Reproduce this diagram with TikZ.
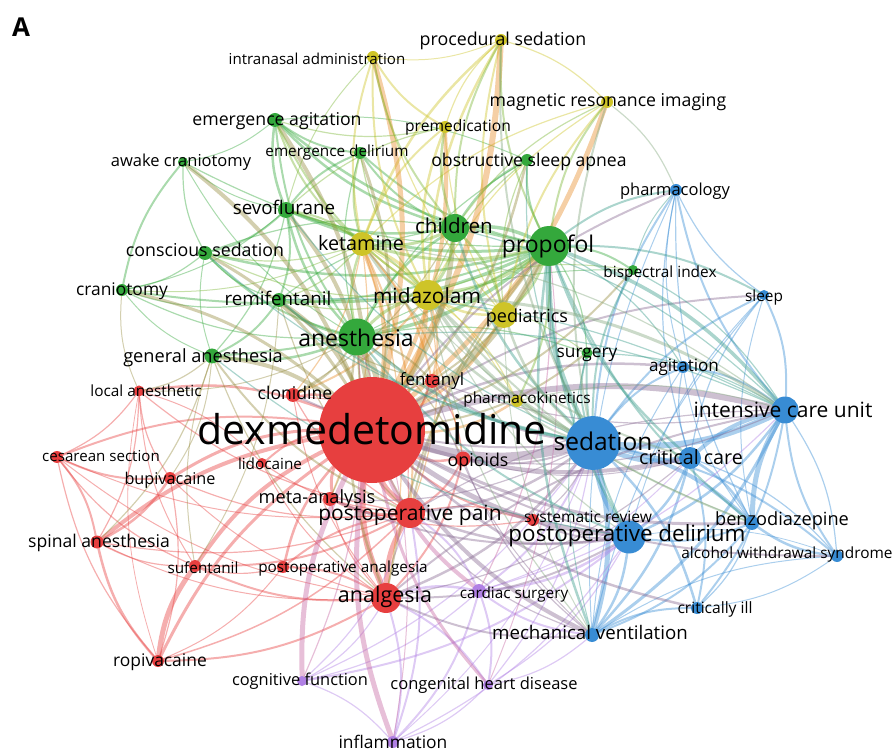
\documentclass[tikz,border=0pt]{standalone}
\usepackage{fontspec}
\setmainfont{Open Sans}
\usepackage{xcolor}
\usepackage{tikz}
\usetikzlibrary{positioning}

\definecolor{cred}{RGB}{231,63,63}
\definecolor{cgreen}{RGB}{52,168,60}
\definecolor{cyellow}{RGB}{206,196,40}
\definecolor{cblue}{RGB}{56,140,212}
\definecolor{cpurple}{RGB}{176,128,228}
\definecolor{cry}{RGB}{230,140,40}
\definecolor{crg}{RGB}{150,140,64}
\colorlet{crb}{cred!45!cblue}
\colorlet{crp}{cred!40!cpurple}
\colorlet{cgy}{cgreen!55!cyellow}
\colorlet{cgb}{cgreen!50!cblue}
\colorlet{cyb}{cyellow!50!cblue}

\pgfdeclarelayer{edges}
\pgfsetlayers{edges,main}

\begin{document}
\begin{tikzpicture}[x=1pt,y=-1pt,
  dot/.style={circle,draw=none,inner sep=0pt,minimum size=#1},
  kw/.style={font={\fontsize{#1}{#1}\selectfont},anchor=base,yshift={-0.35pt*#1},inner sep=0pt,text=black},
  ed/.style={draw=#1,draw opacity=.42,line cap=round}]
\useasboundingbox (0,0) rectangle (895,751);

% red cluster
\node[dot=106,fill=cred] (dex) at (372,430) {};
\node[dot=30,fill=cred] (pain) at (410,513) {};
\node[dot=30,fill=cred] (anal) at (386,598) {};
\node[dot=14,fill=cred] (fent) at (432,381) {};
\node[dot=14,fill=cred] (clon) at (293,395) {};
\node[dot=11,fill=cred] (local) at (139,391) {};
\node[dot=12,fill=cred] (ces) at (57,457) {};
\node[dot=12,fill=cred] (bupi) at (170,478) {};
\node[dot=10,fill=cred] (lido) at (262,463) {};
\node[dot=14,fill=cred] (meta) at (330,499) {};
\node[dot=15,fill=cred] (opi) at (463,459) {};
\node[dot=13,fill=cred] (spinal) at (97,542) {};
\node[dot=12,fill=cred] (sufe) at (195,566) {};
\node[dot=12,fill=cred] (poan) at (283,567) {};
\node[dot=12,fill=cred] (ropi) at (158,661) {};
\node[dot=12,fill=cred] (sysrev) at (533,520) {};
% green cluster
\node[dot=37,fill=cgreen] (anes) at (357,337) {};
\node[dot=40,fill=cgreen] (prop) at (549,246) {};
\node[dot=28,fill=cgreen] (child) at (455,228) {};
\node[dot=14,fill=cgreen] (remi) at (279,300) {};
\node[dot=16,fill=cgreen] (sevo) at (286,210) {};
\node[dot=14,fill=cgreen] (consc) at (205,253) {};
\node[dot=12,fill=cgreen] (cran) at (122,290) {};
\node[dot=15,fill=cgreen] (genan) at (212,356) {};
\node[dot=14,fill=cgreen] (emag) at (275,120) {};
\node[dot=12,fill=cgreen] (emdel) at (360,153) {};
\node[dot=10,fill=cgreen] (awake) at (183,162) {};
\node[dot=12,fill=cgreen] (osa) at (527,160) {};
\node[dot=11,fill=cgreen] (surg) at (587,353) {};
\node[dot=10,fill=cgreen] (bis) at (633,270) {};
% yellow cluster
\node[dot=30,fill=cyellow] (mida) at (428,295) {};
\node[dot=24,fill=cyellow] (keta) at (362,244) {};
\node[dot=26,fill=cyellow] (pedi) at (504,315) {};
\node[dot=12,fill=cyellow] (preme) at (445,127) {};
\node[dot=12,fill=cyellow] (intra) at (373,57) {};
\node[dot=12,fill=cyellow] (proc) at (501,40) {};
\node[dot=12,fill=cyellow] (mri) at (607,102) {};
\node[dot=12,fill=cyellow] (pk) at (517,401) {};
% blue cluster
\node[dot=54,fill=cblue] (sed) at (593,443) {};
\node[dot=33,fill=cblue] (podel) at (629,537) {};
\node[dot=27,fill=cblue] (icu) at (785,410) {};
\node[dot=22,fill=cblue] (crit) at (690,458) {};
\node[dot=14,fill=cblue] (benzo) at (752,523) {};
\node[dot=12,fill=cblue] (alco) at (837,556) {};
\node[dot=12,fill=cblue] (critill) at (697,608) {};
\node[dot=14,fill=cblue] (mv) at (592,635) {};
\node[dot=12,fill=cblue] (agit) at (683,367) {};
\node[dot=10,fill=cblue] (sleep) at (764,295) {};
\node[dot=12,fill=cblue] (pharm) at (676,190) {};
% purple cluster
\node[dot=14,fill=cpurple] (card) at (479,591) {};
\node[dot=10,fill=cpurple] (cogn) at (302,681) {};
\node[dot=10,fill=cpurple] (chd) at (488,685) {};
\node[dot=12,fill=cpurple] (infl) at (393,742) {};

\begin{pgfonlayer}{edges}
% links inside clusters
\foreach \a/\b/\w in {pain/anal/5,sufe/ropi/5,spinal/ropi/2.5,spinal/ces/2,spinal/bupi/2.5,ces/bupi/2,ces/local/1.2,local/bupi/1.2,sufe/pain/2,ropi/anal/2,ropi/bupi/1.2,lido/pain/1.2,meta/pain/2.5,meta/sysrev/1.2,clon/fent/1,opi/fent/1.2,anal/opi/2,pain/opi/2,sufe/anal/2,spinal/local/1.2,ces/ropi/1.2,ces/sufe/1.2,lido/local/1,pain/poan/2,anal/poan/2,spinal/sufe/1.2,spinal/pain/1.2,ropi/pain/1.5,bupi/pain/1.2,sufe/poan/1.2,local/pain/1.2,clon/pain/1.2,meta/anal/1.2,ces/anal/1,spinal/anal/1,local/sufe/1,bupi/anal/1,fent/pain/1.2,sysrev/pain/1.2,ropi/poan/1,ces/pain/1,clon/anal/1,lido/anal/1,local/ropi/0.8,dex/pain/6,dex/anal/6,dex/spinal/4,dex/bupi/3,dex/sufe/4,dex/ropi/3,dex/ces/2,dex/local/2.5,dex/lido/2,dex/meta/3,dex/clon/2.5,dex/fent/2.5,dex/opi/2.5,dex/poan/2.5,dex/sysrev/2}
  \draw[ed=cred,line width=\w pt] (\a) to[bend right=14] (\b);
\foreach \a/\b/\w in {anes/prop/3.5,prop/child/3.5,child/anes/2.5,emag/sevo/2.5,emag/child/2.5,emdel/child/2,emdel/sevo/2,emag/emdel/2,awake/cran/2,cran/consc/1.2,cran/prop/2,consc/prop/2.5,consc/anes/2,remi/prop/3,remi/anes/2.5,genan/anes/2.5,genan/remi/2,osa/child/2,osa/prop/2,bis/prop/2,surg/prop/1.2,sevo/prop/3,sevo/child/2.5,emag/prop/2.5,awake/consc/1.2,awake/prop/1.2,awake/sevo/1,cran/remi/1.2,cran/genan/1,consc/remi/1.2,consc/sevo/2,genan/prop/2,genan/sevo/1.2,remi/sevo/2,emdel/prop/2,osa/anes/1.2,surg/anes/1.2,bis/anes/1,emag/anes/2,sevo/anes/2.5,cran/anes/1.2,awake/anes/1,osa/emag/1,emdel/anes/1.2,child/remi/1.2,child/consc/1.2,consc/genan/1,awake/emag/1,cran/sevo/1}
  \draw[ed=cgreen,line width=\w pt] (\a) to[bend right=14] (\b);
\foreach \a/\b/\w in {mida/keta/3,mida/pedi/2.5,keta/pedi/2,preme/mida/2.5,preme/keta/2,intra/mida/2,intra/preme/2,intra/keta/2,intra/pedi/1.2,proc/keta/2.5,proc/mida/2.5,proc/pedi/2,mri/pedi/2,mri/proc/1.2,pk/mida/1.2,intra/proc/1,mri/mida/1.2,mri/keta/1.2,preme/pedi/1.2,proc/preme/1.2,pk/keta/1}
  \draw[ed=cyellow,line width=\w pt] (\a) to[bend right=14] (\b);
\foreach \a/\b/\w in {sed/icu/6,sed/crit/5,sed/podel/4,icu/crit/4,icu/benzo/5,icu/agit/2,icu/sleep/2,icu/alco/2,benzo/alco/2.5,benzo/crit/2.5,benzo/sed/4,critill/sed/2.5,critill/icu/2,mv/sed/5,mv/icu/3,mv/podel/2.5,pharm/sed/2,pharm/icu/2,pharm/sleep/1.2,sleep/sed/2,agit/sed/2,alco/sed/2,podel/icu/2.5,critill/mv/2,pharm/crit/1.2,pharm/benzo/1.2,mv/crit/2.5,mv/benzo/2,podel/crit/2.5,podel/benzo/2,sleep/crit/1.2,agit/crit/1.2,critill/crit/2,critill/benzo/1.2,alco/crit/1.2,alco/icu/1.2,sleep/benzo/1,agit/benzo/1,pharm/agit/1,alco/mv/1,sleep/mv/1,pharm/mv/1,agit/mv/1,alco/podel/0.8,sleep/podel/1,critill/alco/1}
  \draw[ed=cblue,line width=\w pt] (\a) to[bend right=14] (\b);
\foreach \a/\b/\w in {card/podel/2.5,card/anal/2.5,cogn/card/1.2,chd/card/2,chd/anal/2,infl/card/2,infl/cogn/1.2,infl/anal/2,chd/podel/1.2,infl/chd/1.2,cogn/podel/2,card/mv/2,card/sed/2,chd/mv/1.2,infl/pain/2,cogn/anal/1.2,card/pain/2,chd/sed/1.2,infl/podel/1.2,cogn/pain/1.2,card/icu/1.2,cogn/sed/1.2,card/crit/1,infl/sed/1}
  \draw[ed=cpurple,line width=\w pt] (\a) to[bend right=14] (\b);
% links between clusters
\foreach \a/\b/\w in {dex/mida/5,dex/keta/4,dex/pedi/3,dex/proc/6,dex/mri/5,dex/intra/5,dex/preme/4,dex/pk/2.5,fent/mida/2,fent/keta/2,pain/keta/2,anal/keta/1.2,clon/mida/2,clon/keta/1.2,opi/keta/1.2,pain/mida/1.2,meta/keta/1.2}
  \draw[ed=cry,line width=\w pt] (\a) to[bend right=14] (\b);
\foreach \a/\b/\w in {dex/anes/6,dex/prop/6,dex/child/5,dex/remi/4,dex/sevo/4,dex/consc/3,dex/cran/3,dex/awake/4,dex/genan/4,dex/emag/4,dex/emdel/3,dex/osa/2.5,dex/surg/2,dex/bis/2,anes/anal/2.5,prop/anal/2,prop/pain/2,anes/pain/2,genan/pain/2,genan/anal/1.2,remi/pain/1.2,remi/fent/1.2,clon/anes/2,fent/anes/2,fent/prop/2,local/genan/1.2,spinal/genan/1.2,bupi/genan/1,sufe/remi/1,clon/child/1.2,local/anes/1,cran/local/1,opi/anes/1.2,genan/sufe/1,meta/anes/1.2}
  \draw[ed=crg,line width=\w pt] (\a) to[bend right=14] (\b);
\foreach \a/\b/\w in {dex/sed/9,icu/dex/6,dex/podel/5,dex/crit/4,dex/mv/4,dex/benzo/3,dex/critill/2.5,dex/alco/2,agit/dex/2.5,sleep/dex/2,pharm/dex/2,pain/sed/2.5,anal/sed/2.5,pain/podel/2.5,anal/podel/2,anal/mv/2,fent/sed/2,opi/sed/2,sysrev/podel/2,meta/podel/2,meta/sed/1.2,clon/sed/2,icu/pain/1.2,icu/anal/2,opi/icu/1.2,fent/icu/1.2,sysrev/sed/1.2,anal/crit/1.2,pain/mv/1.2,opi/mv/1.2,fent/mv/1,opi/crit/1}
  \draw[ed=crb,line width=\w pt] (\a) to[bend right=14] (\b);
\foreach \a/\b/\w in {dex/card/4,dex/cogn/5,dex/infl/5,dex/chd/3,chd/prop/1,card/prop/1.2,cogn/anes/1.2,infl/anes/1}
  \draw[ed=crp,line width=\w pt] (\a) to[bend right=14] (\b);
\foreach \a/\b/\w in {keta/child/3,mida/child/3,pedi/child/2.5,preme/child/2.5,intra/child/2,proc/child/2,mri/prop/2,pk/prop/2,keta/prop/3,mida/prop/3.5,pedi/prop/2.5,keta/anes/2.5,mida/anes/3,keta/sevo/2,mida/sevo/2,emag/keta/2,emag/mida/2,emdel/keta/2,emdel/mida/1.2,emag/preme/1.2,osa/mida/1.2,osa/pedi/1.2,mri/child/1.2,proc/prop/2,remi/mida/1.2,consc/mida/1.2,consc/keta/1.2,cran/keta/1,intra/sevo/1,preme/sevo/1.2,remi/keta/1.2,bis/mida/1,surg/mida/1}
  \draw[ed=cgy,line width=\w pt] (\a) to[bend right=14] (\b);
\foreach \a/\b/\w in {prop/sed/5,icu/prop/3.5,prop/crit/2.5,prop/podel/2.5,prop/mv/2.5,prop/benzo/2,anes/sed/3,child/sed/2.5,surg/sed/2,surg/podel/2,bis/sed/2,icu/bis/1.2,sleep/prop/2,pharm/prop/2,agit/prop/1.2,anes/podel/2,icu/anes/1.2,icu/child/1.2,osa/sed/1.2,remi/sed/2,icu/remi/1.2,icu/surg/1.2,pharm/bis/1,consc/sed/1.2,genan/podel/1.2,sevo/sed/1.2,surg/mv/1}
  \draw[ed=cgb,line width=\w pt] (\a) to[bend right=14] (\b);
\foreach \a/\b/\w in {mida/sed/3.5,icu/mida/3,pedi/sed/2.5,keta/sed/2.5,mida/crit/2,mida/benzo/2,pk/sed/2,mri/sed/2,proc/sed/2,icu/keta/1.2,mida/podel/1.2,pedi/mv/1,pharm/mri/1.2,icu/pk/1,mida/mv/1.2,keta/benzo/1}
  \draw[ed=cyb,line width=\w pt] (\a) to[bend right=14] (\b);
\end{pgfonlayer}

% labels
\node[font=\fontsize{26}{26}\selectfont\bfseries,inner sep=0pt] (panel) at (21,27) {A};
\node[kw=41] (dex-t) at (372,430) {dexmedetomidine};
\node[kw=21] (pain-t) at (410,513) {postoperative pain};
\node[kw=21.5] (anal-t) at (385,595) {analgesia};
\node[kw=17] (fent-t) at (432,380) {fentanyl};
\node[kw=17.6] (clon-t) at (295,393) {clonidine};
\node[kw=15.4] (local-t) at (146,391) {local anesthetic};
\node[kw=15.1] (ces-t) at (101,456) {cesarean section};
\node[kw=16.2] (bupi-t) at (170,479) {bupivacaine};
\node[kw=15.3] (lido-t) at (270,464) {lidocaine};
\node[kw=18.2] (meta-t) at (317,497) {meta-analysis};
\node[kw=17.8] (opi-t) at (478,460) {opioids};
\node[kw=17.6] (spinal-t) at (99,541) {spinal anesthesia};
\node[kw=15.3] (sufe-t) at (203,568) {sufentanil};
\node[kw=15.3] (poan-t) at (343,567) {postoperative analgesia};
\node[kw=17.4] (ropi-t) at (160,660) {ropivacaine};
\node[kw=15.6] (sysrev-t) at (588,517) {systematic review};
\node[kw=23] (anes-t) at (356,338) {anesthesia};
\node[kw=23] (prop-t) at (548,244) {propofol};
\node[kw=20.6] (child-t) at (454,226) {children};
\node[kw=18.8] (remi-t) at (278,299) {remifentanil};
\node[kw=18.8] (sevo-t) at (284,208) {sevoflurane};
\node[kw=17.8] (consc-t) at (205,250) {conscious sedation};
\node[kw=17.4] (cran-t) at (122,289) {craniotomy};
\node[kw=18.2] (genan-t) at (203,356) {general anesthesia};
\node[kw=17.7] (emag-t) at (277,119) {emergence agitation};
\node[kw=15.3] (emdel-t) at (337,151) {emergence delirium};
\node[kw=16.5] (awake-t) at (181,161) {awake craniotomy};
\node[kw=17.6] (osa-t) at (529,160) {obstructive sleep apnea};
\node[kw=17.3] (surg-t) at (587,351) {surgery};
\node[kw=15.4] (bis-t) at (660,272) {bispectral index};
\node[kw=20.9] (mida-t) at (427,296) {midazolam};
\node[kw=19.8] (keta-t) at (361,244) {ketamine};
\node[kw=18] (pedi-t) at (527,316) {pediatrics};
\node[kw=15.6] (preme-t) at (458,126) {premedication};
\node[kw=15.1] (intra-t) at (317,59) {intranasal administration};
\node[kw=17.8] (proc-t) at (503,39) {procedural sedation};
\node[kw=17.7] (mri-t) at (608,100) {magnetic resonance imaging};
\node[kw=15.4] (pk-t) at (527,398) {pharmacokinetics};
\node[kw=24.5] (sed-t) at (603,442) {sedation};
\node[kw=22.4] (podel-t) at (627,534) {postoperative delirium};
\node[kw=21] (icu-t) at (783,410) {intensive care unit};
\node[kw=19.7] (crit-t) at (691,458) {critical care};
\node[kw=18.2] (benzo-t) at (782,519) {benzodiazepine};
\node[kw=15.4] (alco-t) at (787,553) {alcohol withdrawal syndrome};
\node[kw=15.6] (critill-t) at (715,608) {critically ill};
\node[kw=18.7] (mv-t) at (590,633) {mechanical ventilation};
\node[kw=17.1] (agit-t) at (684,366) {agitation};
\node[kw=15.4] (sleep-t) at (764,296) {sleep};
\node[kw=16.5] (pharm-t) at (675,190) {pharmacology};
\node[kw=15.3] (card-t) at (514,593) {cardiac surgery};
\node[kw=16.4] (cogn-t) at (300,680) {cognitive function};
\node[kw=16.5] (chd-t) at (484,684) {congenital heart disease};
\node[kw=17.4] (infl-t) at (393,742) {inflammation};
\end{tikzpicture}
\end{document}
